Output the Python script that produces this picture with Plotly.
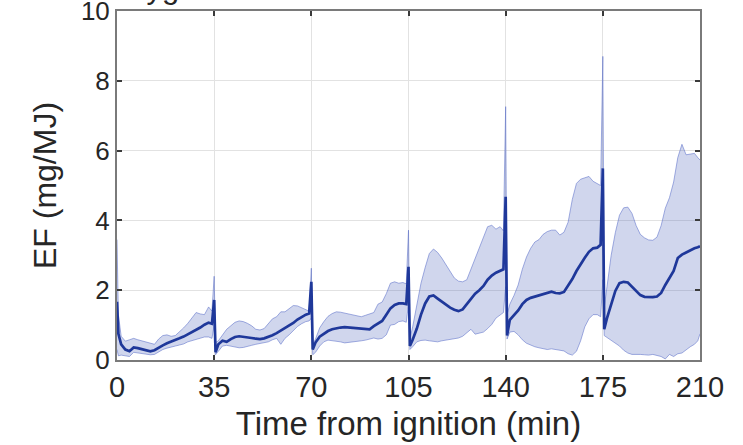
import plotly.graph_objects as go

# Minutes into each 35-minute burn period at which the values are sampled
OFFSETS = [0, 0.5, 1.5, 3, 4.5, 6, 7.5, 9, 10.5, 12, 13.5, 15, 16.5, 18,
           19.5, 21, 22.5, 24, 25.5, 27, 28.5, 30, 31.5, 33, 34.2]
PERIOD = 35
END_TIME = 210

# Mean emission factor (mg/MJ), one list per burn period
mean_1 = [1.67, 0.75, 0.45, 0.30, 0.25, 0.36, 0.34, 0.31, 0.29, 0.25, 0.28, 0.36, 0.42,
          0.48, 0.52, 0.56, 0.62, 0.67, 0.73, 0.80, 0.86, 0.93, 1.01, 1.07, 1.04]
mean_2 = [1.72, 0.22, 0.45, 0.55, 0.52, 0.60, 0.66, 0.68, 0.67, 0.66, 0.63, 0.61, 0.60,
          0.62, 0.66, 0.71, 0.77, 0.84, 0.90, 0.98, 1.06, 1.16, 1.24, 1.30, 1.33]
mean_3 = [2.24, 0.30, 0.50, 0.67, 0.76, 0.83, 0.88, 0.91, 0.93, 0.94, 0.93, 0.92, 0.91,
          0.90, 0.89, 0.88, 0.97, 1.05, 1.12, 1.30, 1.48, 1.58, 1.62, 1.62, 1.60]
mean_4 = [2.67, 0.40, 0.58, 0.90, 1.30, 1.62, 1.82, 1.85, 1.76, 1.67, 1.58, 1.50, 1.44,
          1.40, 1.45, 1.60, 1.78, 1.90, 2.00, 2.12, 2.30, 2.42, 2.50, 2.56, 2.60]
mean_5 = [4.68, 0.70, 1.15, 1.28, 1.42, 1.60, 1.72, 1.78, 1.82, 1.86, 1.90, 1.94, 1.96,
          1.92, 1.91, 1.95, 2.12, 2.32, 2.55, 2.75, 2.93, 3.10, 3.20, 3.22, 3.30]
mean_6 = [5.49, 0.88, 1.20, 1.60, 1.98, 2.20, 2.24, 2.22, 2.10, 1.98, 1.86, 1.81, 1.80,
          1.80, 1.82, 1.92, 2.15, 2.36, 2.55, 2.92, 3.02, 3.08, 3.15, 3.20, 3.23]
mean_end = 3.26

# Upper edge of the spread band
upper_1 = [3.45, 1.30, 0.68, 0.54, 0.58, 0.62, 0.58, 0.55, 0.52, 0.47, 0.45, 0.60, 0.70,
           0.72, 0.68, 0.70, 0.80, 0.92, 1.05, 1.22, 1.36, 1.32, 1.30, 1.52, 1.40]
upper_2 = [2.40, 0.50, 0.55, 0.72, 0.88, 0.98, 1.08, 1.12, 1.10, 1.05, 0.98, 0.88, 0.86,
           0.90, 1.05, 1.18, 1.24, 1.38, 1.38, 1.46, 1.56, 1.55, 1.50, 1.46, 1.40]
upper_3 = [2.63, 0.45, 0.60, 0.92, 1.10, 1.25, 1.33, 1.38, 1.37, 1.34, 1.32, 1.30, 1.26,
           1.24, 1.28, 1.33, 1.36, 1.60, 1.66, 1.90, 2.20, 2.24, 2.20, 2.22, 2.18]
upper_4 = [3.72, 0.60, 0.95, 1.60, 2.20, 2.65, 3.05, 3.18, 3.08, 2.92, 2.72, 2.52, 2.35,
           2.26, 2.24, 2.30, 2.60, 2.92, 3.20, 3.48, 3.82, 3.86, 3.75, 3.82, 3.70]
upper_5 = [7.26, 1.30, 1.60, 1.85, 2.15, 2.60, 2.95, 3.20, 3.38, 3.45, 3.60, 3.68, 3.72,
           3.72, 3.58, 3.66, 3.95, 4.60, 5.06, 5.18, 5.22, 5.26, 5.12, 5.05, 5.00]
upper_6 = [8.70, 1.50, 2.10, 3.00, 3.65, 4.15, 4.36, 4.38, 4.20, 3.85, 3.60, 3.50, 3.44,
           3.43, 3.52, 3.85, 4.35, 4.65, 5.10, 5.80, 6.18, 5.88, 5.90, 5.92, 5.80]
upper_end = 5.73

# Lower edge of the spread band
lower_1 = [0.30, 0.12, 0.14, 0.12, 0.10, 0.22, 0.20, 0.18, 0.17, 0.15, 0.16, 0.24, 0.30,
           0.34, 0.38, 0.40, 0.43, 0.46, 0.52, 0.56, 0.60, 0.63, 0.66, 0.66, 0.62]
lower_2 = [1.00, 0.15, 0.25, 0.40, 0.42, 0.40, 0.37, 0.35, 0.36, 0.40, 0.42, 0.45, 0.47,
           0.49, 0.52, 0.58, 0.62, 0.45, 0.62, 0.72, 0.84, 0.96, 1.04, 1.10, 1.12]
lower_3 = [1.20, 0.15, 0.22, 0.40, 0.52, 0.57, 0.56, 0.54, 0.52, 0.49, 0.50, 0.53, 0.52,
           0.55, 0.57, 0.60, 0.63, 0.60, 0.62, 0.72, 1.00, 1.02, 1.10, 1.12, 1.08]
lower_4 = [1.60, 0.30, 0.38, 0.52, 0.56, 0.57, 0.55, 0.54, 0.52, 0.55, 0.57, 0.58, 0.60,
           0.63, 0.68, 0.78, 0.88, 0.74, 0.76, 0.80, 0.90, 1.02, 1.20, 1.30, 1.36]
lower_5 = [2.10, 0.60, 0.80, 0.82, 0.72, 0.58, 0.48, 0.42, 0.38, 0.35, 0.32, 0.30, 0.32,
           0.30, 0.27, 0.26, 0.18, 0.14, 0.25, 0.55, 0.95, 1.18, 1.30, 1.30, 1.24]
lower_6 = [2.30, 0.70, 0.65, 0.57, 0.48, 0.40, 0.28, 0.20, 0.16, 0.17, 0.16, 0.15, 0.14,
           0.16, 0.12, 0.10, 0.03, 0.16, 0.10, 0.18, 0.20, 0.30, 0.38, 0.45, 0.55]
lower_end = 0.75

X_TICKS = [0, 35, 70, 105, 140, 175, 210]
Y_TICKS = [0, 2, 4, 6, 8, 10]

periods_mean = [mean_1, mean_2, mean_3, mean_4, mean_5, mean_6]
periods_upper = [upper_1, upper_2, upper_3, upper_4, upper_5, upper_6]
periods_lower = [lower_1, lower_2, lower_3, lower_4, lower_5, lower_6]

t, ef_mean, ef_upper, ef_lower = [], [], [], []
for k in range(len(periods_mean)):
    t += [PERIOD * k + o for o in OFFSETS]
    ef_mean += periods_mean[k]
    ef_upper += periods_upper[k]
    ef_lower += periods_lower[k]
t.append(END_TIME)
ef_mean.append(mean_end)
ef_upper.append(upper_end)
ef_lower.append(lower_end)

FONT = "Liberation Sans, Arial, sans-serif"
TXT = "#262626"
band_edge = dict(color="rgba(90,110,200,0.55)", width=1)

fig = go.Figure()
fig.add_trace(go.Scatter(x=t, y=ef_upper, mode="lines", line=band_edge,
                         showlegend=False, hoverinfo="skip"))
fig.add_trace(go.Scatter(x=t, y=ef_lower, mode="lines", line=band_edge,
                         fill="tonexty", fillcolor="rgba(60,85,180,0.24)",
                         showlegend=False, hoverinfo="skip"))
fig.add_trace(go.Scatter(x=t, y=ef_mean, mode="lines",
                         line=dict(color="#1f389a", width=2.7), showlegend=False))

axis_common = dict(
    showline=True, linecolor="#7a7a7a", linewidth=2, mirror="ticks",
    ticks="inside", ticklen=5, tickwidth=1.5, tickcolor="#3a3a3a",
    showgrid=True, gridcolor="#e2e2e2", gridwidth=1, zeroline=False,
    ticklabeloverflow="allow",
)

fig.update_layout(
    template="none",
    width=743, height=445,
    margin=dict(l=117, r=43, t=11, b=85),
    paper_bgcolor="white", plot_bgcolor="white",
    xaxis=dict(range=[0, END_TIME], tickvals=X_TICKS,
               tickfont=dict(family=FONT, size=29, color=TXT),
               title=dict(text="Time from ignition (min)",
                          font=dict(family=FONT, size=33, color=TXT), standoff=10),
               **axis_common),
    yaxis=dict(range=[0, 10], tickvals=Y_TICKS,
               tickfont=dict(family=FONT, size=26, color=TXT),
               title=dict(text="EF (mg/MJ)",
                          font=dict(family=FONT, size=32, color=TXT), standoff=15),
               **axis_common),
    annotations=[dict(text="Oxygenated VOCs", xref="paper", yref="paper",
                      x=-0.02, y=1.012, xanchor="left", yanchor="bottom",
                      showarrow=False, font=dict(family=FONT, size=31, color=TXT))],
)

fig.write_html("out.html")
